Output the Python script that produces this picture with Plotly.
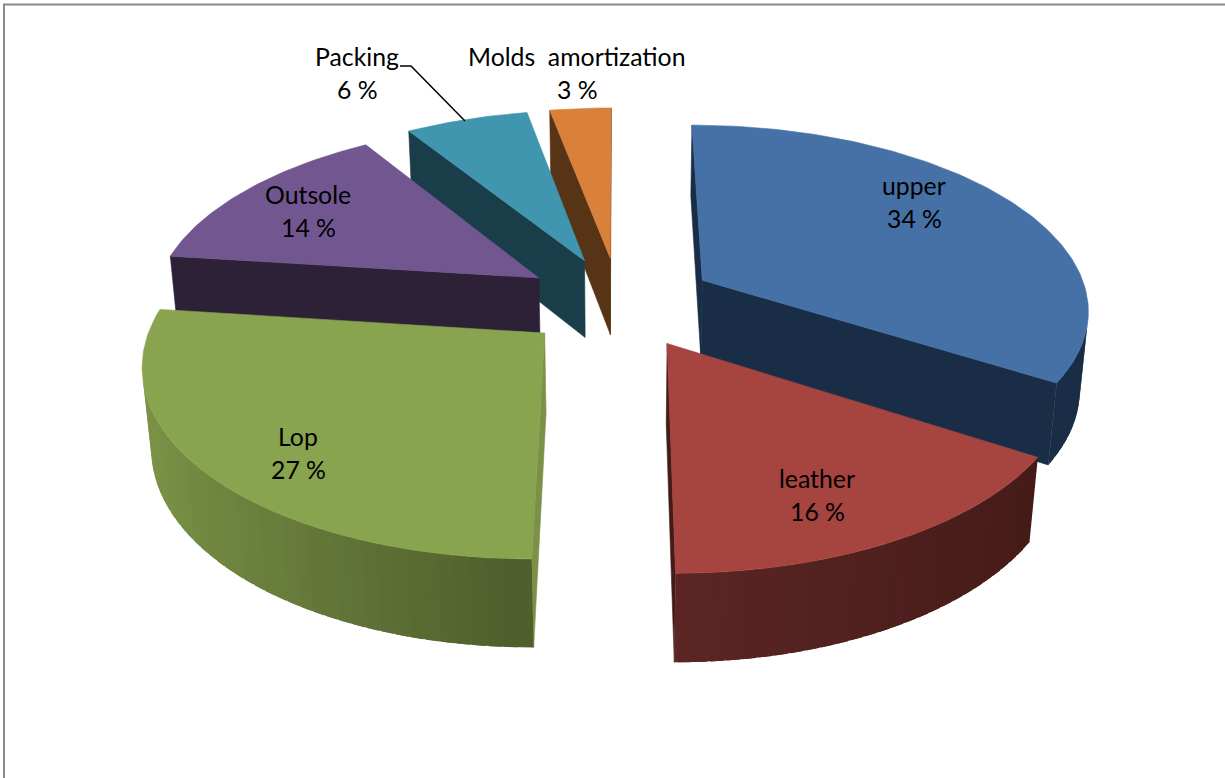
import math
import plotly.graph_objects as go

# Data
categories = ["upper", "leather", "Lop", "Outsole", "Packing", "Molds\u00a0 amortization"]
values = [34, 16, 27, 14, 6, 3]

# Styles
top_colors = ["#4671A6", "#A6443F", "#89A44E", "#725690", "#4095AF", "#D9803A"]
rim_start = ["#1A2D47", "#451B18", "#4F5E2C", "#2C2137", "#1A3D4A", "#573416"]
rim_end = ["#1A2D47", "#5C2624", "#7D9548", "#2C2137", "#1A3D4A", "#573416"]
wall_a0 = ["#1A2D47", "#451B18", "#7A9147", "#2C2137", "#1A3D4A", "#573416"]
wall_a1 = ["#1A2D47", "#451B18", "#2C2137", "#2C2137", "#1A3D4A", "#573416"]
draw_order = [5, 4, 3, 0, 2, 1]
label_xy = {0: (914, 203), 1: (817, 496), 2: (298, 454), 3: (308, 212), 4: (357, 74), 5: (577, 74)}

# Projection parameters
CX, CY = 619, 302
F, D0 = 2360, 6.1
S, C = 0.474, 0.880
EXPLODE, H = 0.25, 0.235


def project(x, y, z):
    d = D0 + y * C - z * S
    return CX + F * x / d, CY - F * (y * S + z * C) / d


def lerp_color(c0, c1, t):
    a = [int(c0[i:i + 2], 16) for i in (1, 3, 5)]
    b = [int(c1[i:i + 2], 16) for i in (1, 3, 5)]
    return "#%02X%02X%02X" % tuple(round(p + (q - p) * t) for p, q in zip(a, b))


def visible(p, n):
    cam = (0, -D0 * C, D0 * S)
    return sum((cam[i] - p[i]) * n[i] for i in range(3)) > 0


fig = go.Figure()


def add_poly(points, color, line_width=0.6):
    xs, ys = zip(*[project(*p) for p in points])
    fig.add_trace(go.Scatter(
        x=list(xs) + [xs[0]], y=list(ys) + [ys[0]], mode="lines", fill="toself",
        fillcolor=color, line=dict(color=color, width=line_width), hoverinfo="skip", showlegend=False))


total = sum(values)
starts = [sum(values[:i]) / total * 2 * math.pi for i in range(len(values))]

for i in draw_order:
    a0 = starts[i]
    a1 = a0 + values[i] / total * 2 * math.pi
    mid = (a0 + a1) / 2
    ox, oy = EXPLODE * math.sin(mid), EXPLODE * math.cos(mid)
    rim = lambda a: (ox + math.sin(a), oy + math.cos(a))

    # cut walls
    for a, n, col in ((a0, (-math.cos(a0), math.sin(a0), 0), wall_a0[i]),
                      (a1, (math.cos(a1), -math.sin(a1), 0), wall_a1[i])):
        rx, ry = rim(a)
        if visible((ox, oy, 0), n):
            add_poly([(ox, oy, 0), (rx, ry, 0), (rx, ry, -H), (ox, oy, -H)], col)

    # rim wall as narrow shaded strips, each one overlapping the next to hide seams
    steps = max(3, int(math.degrees(a1 - a0) / 2))
    step = (a1 - a0) / steps
    span = abs(math.sin(a1) - math.sin(a0)) or 1
    for k in range(steps - 1, -1, -1):
        b0 = a0 + step * k
        b1 = min(a1, b0 + step * 1.8)
        bm = b0 + step / 2
        x0, y0 = rim(b0)
        x1, y1 = rim(b1)
        if visible((*rim(bm), 0), (math.sin(bm), math.cos(bm), 0)):
            t = min(1, abs(math.sin(bm) - math.sin(a0)) / span)
            add_poly([(x0, y0, 0), (x1, y1, 0), (x1, y1, -H), (x0, y0, -H)],
                     lerp_color(rim_start[i], rim_end[i], t), 0)

    # top face
    top = [(ox, oy, 0)]
    n_top = max(8, int(math.degrees(a1 - a0)))
    for k in range(n_top + 1):
        top.append((*rim(a0 + (a1 - a0) * k / n_top), 0))
    add_poly(top, top_colors[i])

# Packing leader line
fig.add_trace(go.Scatter(x=[400, 411, 465], y=[66, 66, 121], mode="lines",
                         line=dict(color="#000000", width=1.5), hoverinfo="skip", showlegend=False))

# Labels
for i, (name, v) in enumerate(zip(categories, values)):
    x, y = label_xy[i]
    for text, yy in ((name, y - 17.5), (f"{v} %", y + 15)):
        fig.add_annotation(x=x, y=yy, text=text, showarrow=False, xanchor="center", yanchor="middle",
                           font=dict(family="Lato", size=24.8, color="#000000"))

fig.update_layout(
    width=1225, height=778, margin=dict(l=0, r=0, t=0, b=0),
    paper_bgcolor="white", plot_bgcolor="white", showlegend=False,
    xaxis=dict(range=[0, 1225], visible=False, fixedrange=True),
    yaxis=dict(range=[778, 0], visible=False, fixedrange=True),
    shapes=[
        dict(type="line", x0=3, x1=1225, y0=4.5, y1=4.5, line=dict(color="#8A8A8A", width=2)),
        dict(type="line", x0=4, x1=4, y0=4, y1=778, line=dict(color="#8A8A8A", width=2)),
    ],
)
fig.write_html("out.html", config={"displayModeBar": False},
               post_script="document.body.style.margin='0';document.documentElement.style.overflow='hidden';")
